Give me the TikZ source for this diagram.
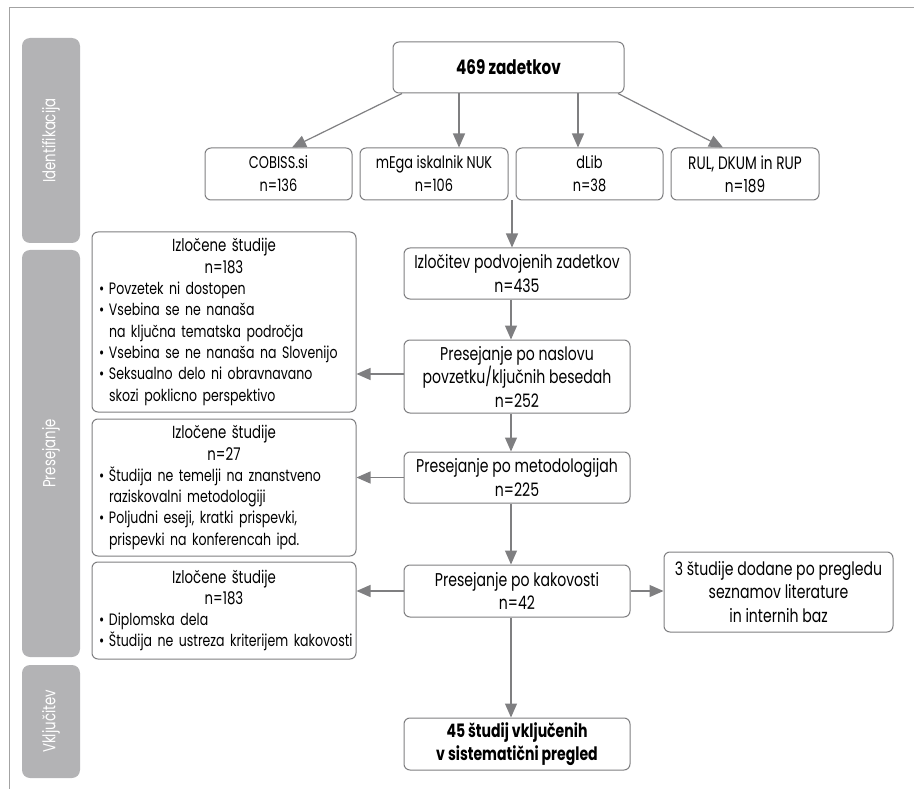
\documentclass[tikz,border=0pt]{standalone}
\usepackage{fontspec}
\setmainfont{Poppins}[FakeStretch=0.76]
\usetikzlibrary{arrows.meta,calc}
\setlength{\parindent}{0pt}
\definecolor{linegray}{HTML}{7F7F81}
\definecolor{bandgray}{HTML}{B3B3B5}
\definecolor{framegray}{HTML}{A3A3A3}
\newcommand{\lhead}[1]{{\fontsize{17.5}{21.3}\selectfont\centering #1\par}}
\newcommand{\bitem}[1]{{\raggedright\noindent\makebox[10pt][l]{\textbullet}\mbox{#1}\par}}
\newcommand{\bcont}[1]{{\raggedright\noindent\hspace*{10pt}\mbox{#1}\par}}
\tikzset{
  box/.style={draw=linegray, line width=1pt, rounded corners=6pt, fill=white,
    align=center, inner sep=0pt, font=\fontsize{18.5}{23.5}\selectfont},
  srcbox/.style={box, minimum height=52pt, font=\fontsize{17}{23}\selectfont},
  boldbox/.style={box, font=\fontsize{18.5}{23.5}\selectfont\bfseries},
  lbox/.style={draw=linegray, line width=1pt, rounded corners=6pt, fill=white,
    inner xsep=7pt, inner ysep=0pt, text width=250pt, minimum width=264pt,
    font=\fontsize{16.5}{21.3}\selectfont},
  arr/.style={draw=linegray, line width=1.2pt, -{Triangle[length=14pt,width=12pt]}},
  band/.style={fill=bandgray, rounded corners=8pt, rotate=90, minimum height=58pt,
    inner sep=0pt, text=white, font=\fontsize{17.5}{17.5}\selectfont},
}
\begin{document}
\begin{tikzpicture}[x=1pt,y=-1pt]
\useasboundingbox (0,0) rectangle (914,789);
% frame
\coordinate (fr1) at (914,8);
\coordinate (fr2) at (9,8);
\coordinate (fr3) at (9,789);
\draw[framegray, line width=1pt] (fr1) -- (fr2) -- (fr3);
% bands
\node[band, minimum width=205pt] (b1) at (51,140.5) {Identifikacija};
\node[band, minimum width=407pt] (b2) at (51,453.5) {Presejanje};
\node[band, minimum width=113pt] (b3) at (51,721.5) {Vključitev};
% top
\node[boldbox, minimum width=231pt, minimum height=51pt, font=\fontsize{20}{23}\selectfont\bfseries] (top) at (508.5,67.5) {469 zadetkov};
\node[srcbox, minimum width=147pt] (cob) at (278.5,174) {COBISS.si\\n=136};
\node[srcbox, minimum width=148pt] (mega) at (434,174) {mEga iskalnik NUK\\n=106};
\node[srcbox, minimum width=147pt] (dlib) at (589.5,174) {dLib\\n=38};
\node[srcbox, minimum width=148pt, font=\fontsize{18}{23}\selectfont] (rul) at (745,174) {RUL, DKUM in RUP\\n=189};
% middle column
\node[box, minimum width=226pt, minimum height=51pt] (izl) at (517,273.5) {Izločitev podvojenih zadetkov\\n=435};
\node[box, minimum width=226pt, minimum height=73pt] (nasl) at (517,376.5) {Presejanje po naslovu\\povzetku/ključnih besedah\\n=252};
\node[box, minimum width=226pt, minimum height=51pt] (met) at (517,477.5) {Presejanje po metodologijah\\n=225};
\node[box, minimum width=226pt, minimum height=52pt] (kak) at (517,591) {Presejanje po kakovosti\\n=42};
\node[boldbox, minimum width=226pt, minimum height=52pt] (inc) at (517,744) {45 študij vključenih\\v sistematični pregled};
\node[box, minimum width=229pt, minimum height=80pt] (dod) at (778.5,592) {3 študije dodane po pregledu\\seznamov literature\\in internih baz};
% left boxes
\node[lbox, minimum height=180pt] (l1) at (224,322) {\lhead{Izločene študije}\lhead{n=183}%
\bitem{Povzetek ni dostopen}%
\bitem{Vsebina se ne nanaša}\bcont{na ključna tematska področja}%
\bitem{Vsebina se ne nanaša na Slovenijo}%
\bitem{Seksualno delo ni obravnavano}\bcont{skozi poklicno perspektivo}};
\node[lbox, minimum height=137pt] (l2) at (224,487.5) {\lhead{Izločene študije}\lhead{n=27}%
\bitem{Študija ne temelji na znanstveno}\bcont{raziskovalni metodologiji}%
\bitem{Poljudni eseji, kratki prispevki,}\bcont{prispevki na konferencah ipd.}};
\node[lbox, minimum height=97pt] (l3) at (224,610.5) {\lhead{Izločene študije}\lhead{n=183}%
\bitem{Diplomska dela}%
\bitem{Študija ne ustreza kriterijem kakovosti}};
% arrows
\draw[arr] ([xshift=-106.5pt]top.south) -- ([xshift=13.5pt]cob.north);
\draw[arr] ([xshift=-49.5pt]top.south) -- ([xshift=25pt]mega.north);
\draw[arr] ([xshift=69.5pt]top.south) -- ([xshift=-11.5pt]dlib.north);
\draw[arr] ([xshift=109.5pt]top.south) -- ([xshift=-22pt]rul.north);
\coordinate (src) at ($(mega.south east)!.5!(dlib.south west)$);
\draw[arr] (src) -- (src |- izl.north);
\draw[arr] ([xshift=-6pt]izl.south) -- ([xshift=-6pt]nasl.north);
\draw[arr] ([xshift=-6pt]nasl.south) -- ([xshift=-6pt]met.north);
\draw[arr] ([xshift=-6pt]met.south) -- ([xshift=-6pt]kak.north);
\draw[arr] ([xshift=-6pt]kak.south) -- ([xshift=-6pt]inc.north);
\coordinate (nw) at ([yshift=2.5pt]nasl.west);
\draw[arr] (nw) -- (l1.east |- nw);
\draw[arr] (met.west) -- (l2.east |- met.west);
\draw[arr] (kak.west) -- (l3.east |- kak.west);
\draw[arr] (kak.east) -- (dod.west |- kak.east);
\end{tikzpicture}
\end{document}
